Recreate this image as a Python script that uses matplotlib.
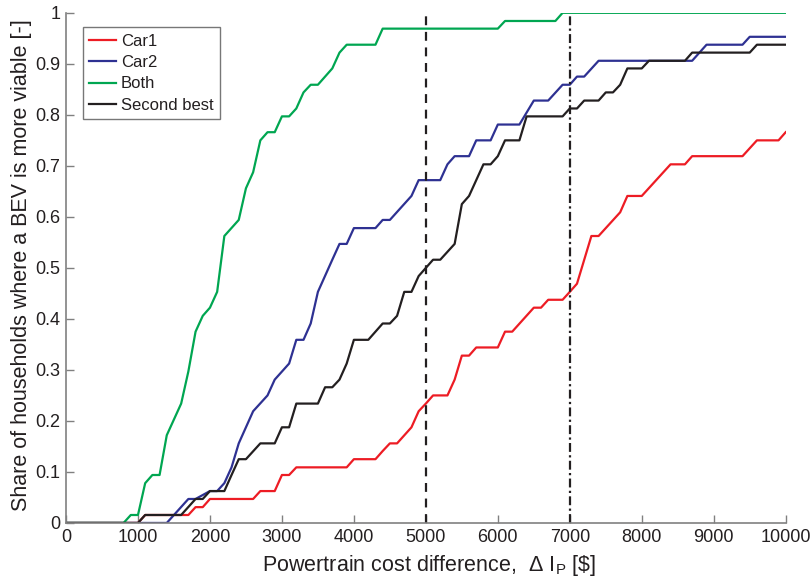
import numpy as np
import matplotlib
matplotlib.use("Agg")
import matplotlib.pyplot as plt

plt.rcParams['font.family'] = ['Liberation Sans', 'DejaVu Sans']
plt.rcParams['mathtext.fontset'] = 'custom'
plt.rcParams['mathtext.rm'] = 'Liberation Sans'
plt.rcParams['mathtext.it'] = 'Liberation Sans'

# Datos (breakpoints de cada curva)
car1_x = [0, 1000, 1100, 1600, 1700, 1800, 1900, 2000, 2600, 2700, 2900, 3000, 3100, 3200,
          3900, 4000, 4300, 4400, 4500, 4600, 4800, 4900, 5000, 5100, 5300, 5400, 5500,
          5600, 5700, 6000, 6100, 6200, 6500, 6600, 6700, 6900, 7000, 7100, 7300, 7400,
          7700, 7800, 8000, 8400, 8600, 8700, 9400, 9600, 9900, 10000]
car1_y = [0, 0, 0.0156, 0.0156, 0.0156, 0.031, 0.031, 0.047, 0.047, 0.0625, 0.0625, 0.094,
          0.094, 0.109, 0.109, 0.125, 0.125, 0.141, 0.156, 0.156, 0.1875, 0.219, 0.234,
          0.25, 0.25, 0.281, 0.328, 0.328, 0.344, 0.344, 0.375, 0.375, 0.422, 0.422, 0.4375,
          0.4375, 0.453, 0.469, 0.5625, 0.5625, 0.609, 0.641, 0.641, 0.703, 0.703, 0.719,
          0.719, 0.75, 0.75, 0.766]

car2_x = [0, 1400, 1700, 1800, 2000, 2100, 2200, 2300, 2400, 2600, 2800, 2900, 3100, 3200,
          3300, 3400, 3500, 3700, 3800, 3900, 4000, 4300, 4400, 4500, 4800, 4900, 5200,
          5300, 5400, 5600, 5700, 5900, 6000, 6300, 6500, 6700, 6900, 7000, 7100, 7200,
          7400, 8700, 8900, 9400, 9500, 10000]
car2_y = [0, 0, 0.047, 0.047, 0.0625, 0.0625, 0.078, 0.109, 0.156, 0.219, 0.25, 0.281,
          0.3125, 0.359, 0.359, 0.391, 0.453, 0.516, 0.547, 0.547, 0.578, 0.578, 0.594,
          0.594, 0.641, 0.672, 0.672, 0.703, 0.719, 0.719, 0.75, 0.75, 0.781, 0.781, 0.828,
          0.828, 0.859, 0.859, 0.875, 0.875, 0.906, 0.906, 0.9375, 0.9375, 0.953, 0.953]

both_x = [0, 800, 900, 1000, 1100, 1200, 1300, 1400, 1500, 1600, 1700, 1800, 1900, 2000,
          2100, 2200, 2400, 2500, 2600, 2700, 2800, 2900, 3000, 3100, 3200, 3300, 3400,
          3500, 3700, 3800, 3900, 4300, 4400, 6000, 6100, 6800, 6900, 10000]
both_y = [0, 0, 0.0156, 0.0156, 0.078, 0.094, 0.094, 0.172, 0.203, 0.234, 0.297, 0.375,
          0.406, 0.422, 0.453, 0.5625, 0.594, 0.656, 0.6875, 0.75, 0.766, 0.766, 0.797,
          0.797, 0.8125, 0.844, 0.859, 0.859, 0.891, 0.922, 0.9375, 0.9375, 0.969, 0.969,
          0.984, 0.984, 1.0, 1.0]

second_x = [0, 1000, 1100, 1600, 1800, 1900, 2000, 2200, 2300, 2400, 2500, 2700, 2900,
            3000, 3100, 3200, 3500, 3600, 3700, 3800, 3900, 4000, 4200, 4400, 4500, 4600,
            4700, 4800, 4900, 5000, 5100, 5200, 5400, 5500, 5600, 5800, 5900, 6000, 6100,
            6300, 6400, 6900, 7000, 7100, 7200, 7400, 7500, 7600, 7700, 7800, 8000, 8100,
            8600, 8700, 9500, 9600, 10000]
second_y = [0, 0, 0.0156, 0.0156, 0.047, 0.047, 0.0625, 0.0625, 0.094, 0.125, 0.125,
            0.156, 0.156, 0.1875, 0.1875, 0.234, 0.234, 0.266, 0.266, 0.281, 0.3125, 0.359,
            0.359, 0.391, 0.391, 0.406, 0.453, 0.453, 0.484, 0.5, 0.516, 0.516, 0.547, 0.625,
            0.641, 0.703, 0.703, 0.719, 0.75, 0.75, 0.797, 0.797, 0.8125, 0.8125, 0.828,
            0.828, 0.844, 0.844, 0.859, 0.891, 0.891, 0.906, 0.906, 0.922, 0.922, 0.9375,
            0.9375]

lineas_v = [5000, 7000]

color_texto = '#231F20'
color_eje = '#808080'

fig = plt.figure(figsize=(8.1, 5.83), dpi=100)
ax = fig.add_axes([0.0815, 0.103, 0.8885, 0.875])

ax.plot(car1_x, car1_y, color='#ED1C24', lw=1.6, label='Car1')
ax.plot(car2_x, car2_y, color='#2E3192', lw=1.6, label='Car2')
ax.plot(both_x, both_y, color='#00A651', lw=1.6, label='Both')
ax.plot(second_x, second_y, color='#231F20', lw=1.6, label='Second best')

# Lineas verticales de referencia
ax.plot([lineas_v[0]] * 2, [0, 1], color='#231F20', lw=1.6, ls=(0, (4, 3)))
ax.plot([lineas_v[1]] * 2, [0, 1], color='#231F20', lw=1.6, ls=(0, (4, 1.5, 1, 1.5)))

ax.set_xlim(0, 10000)
ax.set_ylim(0, 1)
ax.set_xticks(np.arange(0, 10001, 1000))
ax.set_yticks(np.arange(0, 1.01, 0.1))
ax.set_yticklabels(['0', '0.1', '0.2', '0.3', '0.4', '0.5', '0.6', '0.7', '0.8', '0.9', '1'])

for lado in ['top', 'right']:
    ax.spines[lado].set_visible(False)
for lado in ['left', 'bottom']:
    ax.spines[lado].set_color(color_eje)
    ax.spines[lado].set_linewidth(1.2)
ax.tick_params(direction='in', length=6, width=1, color=color_eje, labelsize=13,
               labelcolor=color_texto, pad=4)

ax.set_xlabel(r'Powertrain cost difference,  $\Delta$ I$_\mathrm{P}$ [\$]', fontsize=15.5,
              color=color_texto)
ax.xaxis.set_label_coords(0.505, -0.058)
ax.set_ylabel('Share of households where a BEV is more viable [-]', fontsize=15.5,
              color=color_texto)
ax.yaxis.set_label_coords(-0.047, 0.505)

leg = ax.legend(loc='upper left', bbox_to_anchor=(0.023, 0.972), fontsize=12,
                fancybox=False, edgecolor='#555555', handlelength=1.6, handletextpad=0.3,
                borderpad=0.4, labelspacing=0.38, borderaxespad=0)
leg.get_frame().set_linewidth(1.0)
for t in leg.get_texts():
    t.set_color(color_texto)

fig.savefig('out.png', dpi=100)
